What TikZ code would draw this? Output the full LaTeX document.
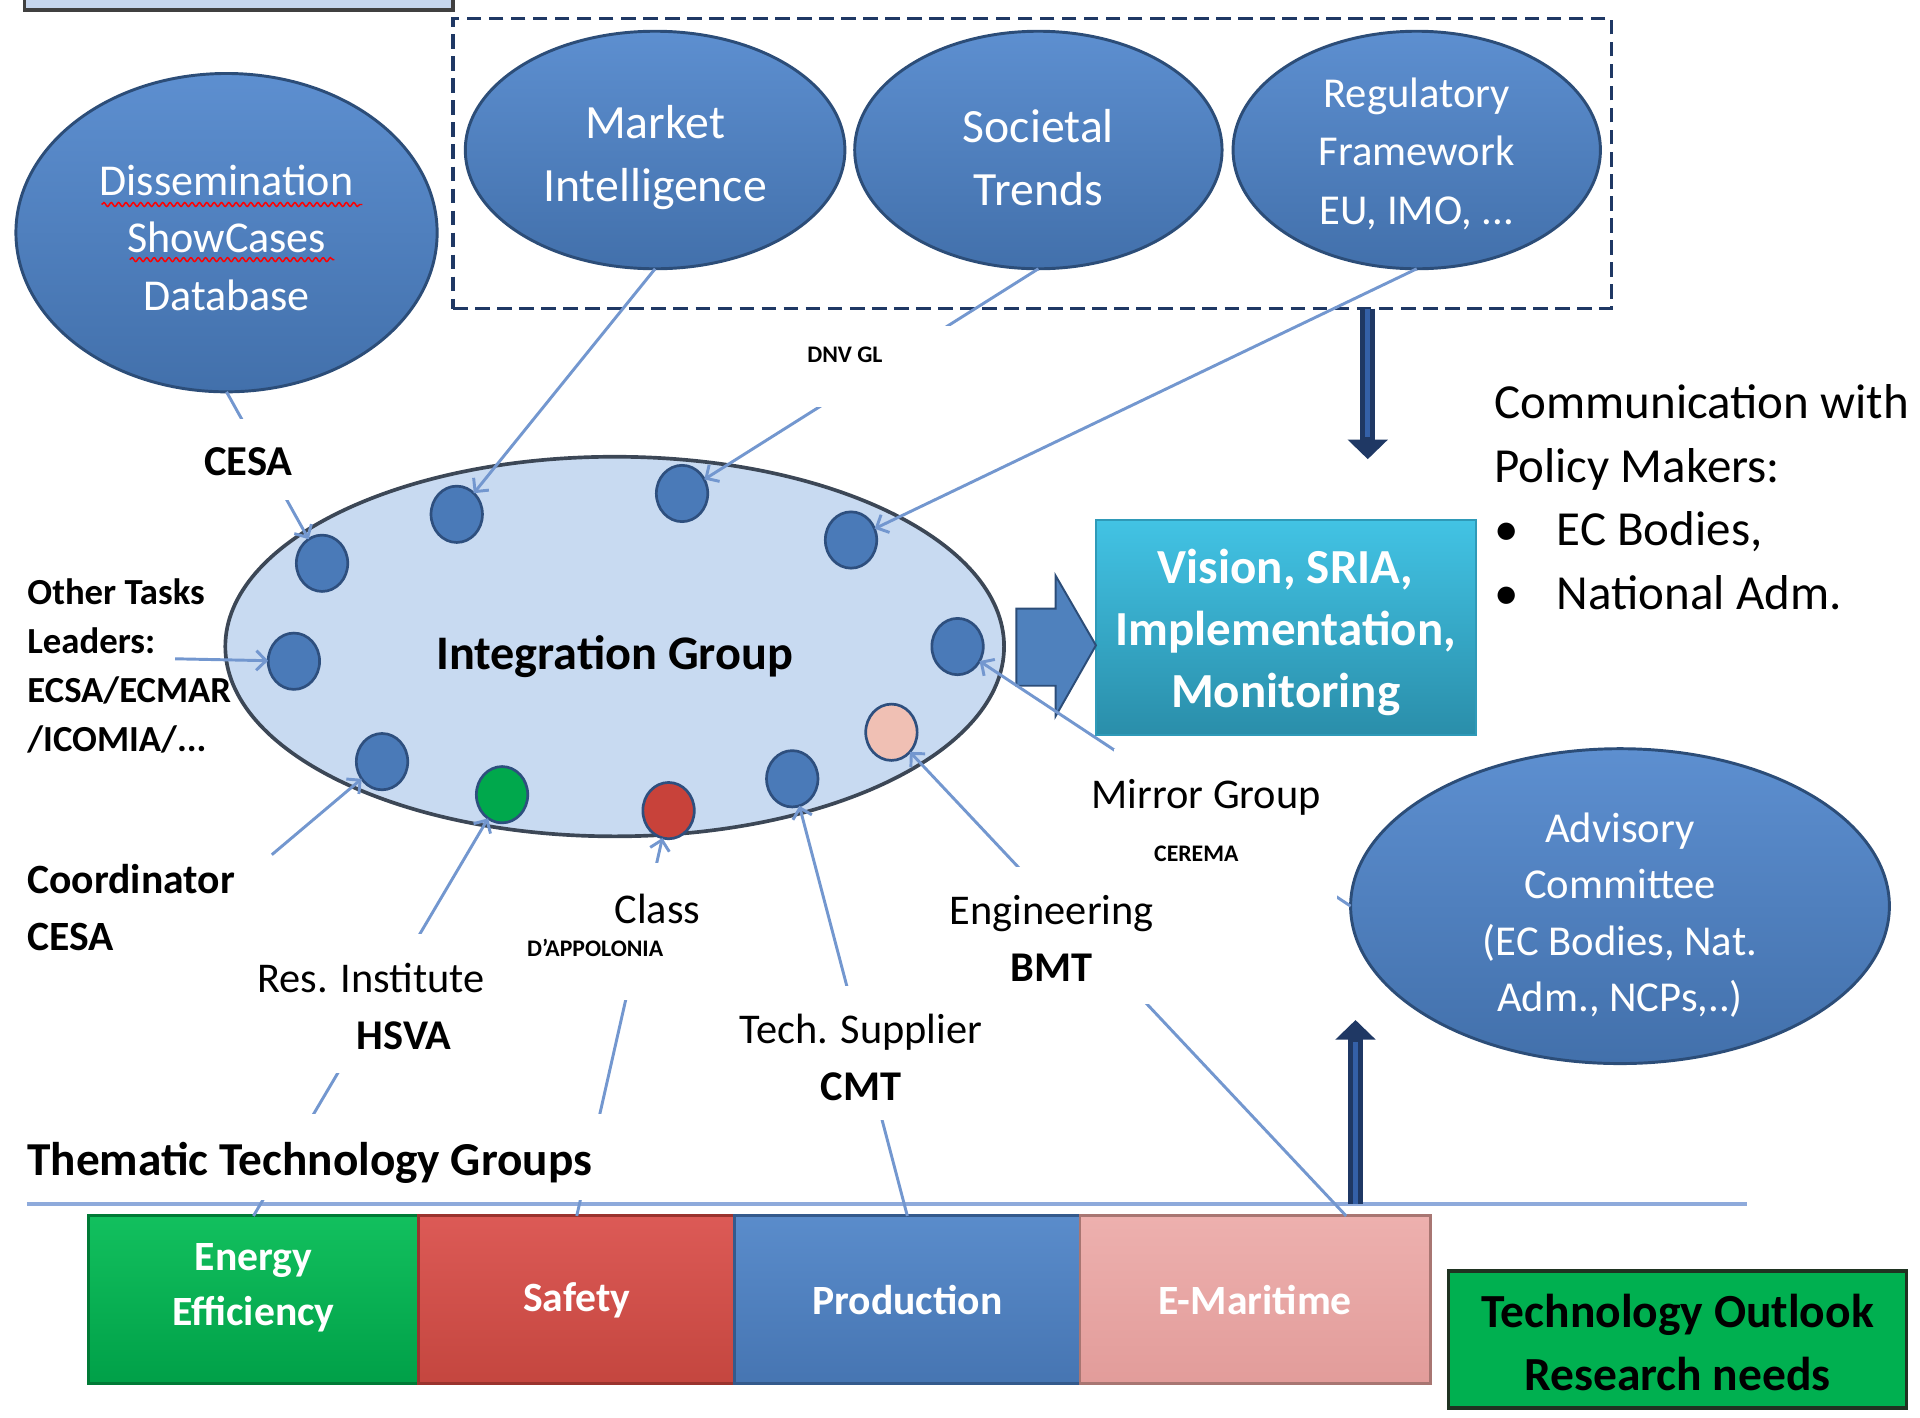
\documentclass[tikz,border=0pt]{standalone}
\usepackage{fontspec}
\setmainfont{Carlito}
\usetikzlibrary{arrows.meta,shapes.geometric,decorations.pathmorphing,calc}
\newcommand\myfs[2]{\fontsize{#1}{#2}\selectfont}
\definecolor{elblueT}{HTML}{5D8FD0}
\definecolor{elblueB}{HTML}{4270AB}
\definecolor{elborder}{HTML}{2C4D78}
\definecolor{elblue}{HTML}{4F81BD}
\definecolor{igfill}{HTML}{C8DAF1}
\definecolor{igborder}{HTML}{3C4756}
\definecolor{connc}{HTML}{7397CF}
\definecolor{navy}{HTML}{1F3864}
\definecolor{navyin}{HTML}{3460A8}
\definecolor{dotb}{HTML}{4A7AB8}
\definecolor{dotborder}{HTML}{2E4F7E}
\definecolor{dgreen}{HTML}{00A84C}
\definecolor{dred}{HTML}{C8423A}
\definecolor{dpink}{HTML}{F0C0B4}
\definecolor{visT}{HTML}{42C3E4}
\definecolor{visB}{HTML}{2A8EAA}
\definecolor{visborder}{HTML}{2F9AB8}
\definecolor{grnT}{HTML}{12C05E}
\definecolor{grnB}{HTML}{00A048}
\definecolor{grnborder}{HTML}{007A36}
\definecolor{redT}{HTML}{DC5A56}
\definecolor{redB}{HTML}{C4463F}
\definecolor{redborder}{HTML}{9A332E}
\definecolor{bluT}{HTML}{5A8CCB}
\definecolor{bluB}{HTML}{4675B2}
\definecolor{bluborder}{HTML}{345A8C}
\definecolor{pnkT}{HTML}{EDB0AE}
\definecolor{pnkB}{HTML}{E29C9A}
\definecolor{pnkborder}{HTML}{A87672}
\definecolor{hline}{HTML}{8EAADB}
\definecolor{topbox}{HTML}{C6D6EE}
\definecolor{togreen}{HTML}{00B050}
\definecolor{toborder}{HTML}{1F3321}
\tikzset{
  bubble/.style={ellipse, draw=elborder, line width=1.2pt, top color=elblueT, bottom color=elblueB,
    text=white, align=center, inner sep=0pt, outer sep=0pt},
  dot/.style={ellipse, minimum width=21pt, minimum height=23pt, inner sep=0pt, outer sep=0pt,
    draw=dotborder, line width=1.1pt, fill=dotb},
  conn/.style={draw=connc, line width=1.2pt},
  tip/.style={-{Straight Barb[length=4pt,width=8pt]}},
  lbl/.style={text=black, align=center, inner sep=0pt},
  ttgbox/.style={rectangle, minimum height=68.5pt, inner sep=0pt, outer sep=0pt, line width=1.2pt,
    text=white, align=center, font=\myfs{17}{22.5}\bfseries},
  navyarrow/.style={draw=navy, line width=6pt, -{Triangle[length=8pt,width=16pt]}},
  mask/.style={fill=white}
}
\begin{document}
\begin{tikzpicture}[x=0.5pt,y=-0.5pt]
\useasboundingbox (0,0) rectangle (1568,1158);

% partial box at top left
\filldraw[fill=topbox, draw=black!75, line width=1.5pt] (20,-20) rectangle (370,8);

% dashed frame
\node[rectangle, minimum width=473pt, minimum height=118.5pt, inner sep=0pt, outer sep=0pt,
  draw=navy, line width=1.5pt, dash pattern=on 6pt off 3pt] (frame) at (843,133.5) {};

% top bubbles
\node[bubble, minimum width=155pt, minimum height=97pt, font=\myfs{19.5}{26}] (mi) at (535,122.5) {\rule{0pt}{19.7pt}Market\\Intelligence};
\node[bubble, minimum width=150pt, minimum height=97pt, font=\myfs{19.5}{26}] (st) at (848,122.5) {\rule{0pt}{19.7pt}Societal\\Trends};
\node[bubble, minimum width=150pt, minimum height=97pt, font=\myfs{17.4}{24}] (rf) at (1157,122.5) {\rule{0pt}{15.2pt}Regulatory\\Framework\\EU, IMO, ...};
\node[bubble, minimum width=172pt, minimum height=130pt, font=\myfs{18}{23.5}] (dis) at (185,190) {\rule{0pt}{16.5pt}Dissemination\\ShowCases\\Database};
\node[bubble, minimum width=220pt, minimum height=128pt, font=\myfs{17.4}{23}] (adv) at (1323,740) {\rule{0pt}{19.5pt}Advisory\\Committee\\(EC Bodies, Nat.\\Adm., NCPs,..)};

% red wavy underlines
\draw[red, line width=0.6pt, decorate, decoration={snake, amplitude=0.8pt, segment length=3pt}] (83,167) -- (296,167);
\draw[red, line width=0.6pt, decorate, decoration={snake, amplitude=0.8pt, segment length=3pt}] (106,212) -- (273,212);

% integration group
\node[ellipse, minimum width=318pt, minimum height=155pt, inner sep=0pt, outer sep=0pt,
  fill=igfill, draw=igborder, line width=1.5pt, font=\myfs{19.7}{24}\bfseries] (ig) at (502,528) {\rule{0pt}{22pt}Integration Group};

% member dots
\node[dot] (c1) at (263,460) {};
\node[dot] (c2) at (373,420) {};
\node[dot] (c3) at (557,403) {};
\node[dot] (c4) at (695,441) {};
\node[dot] (c5) at (240,540) {};
\node[dot] (c6) at (782,528) {};
\node[dot] (c7) at (312,622) {};
\node[dot, fill=dgreen] (c8) at (410,649) {};
\node[dot, fill=dred] (c9) at (546,662) {};
\node[dot] (c10) at (647,636) {};
\node[dot, fill=dpink] (c11) at (728,598) {};

% vision box and block arrow
\node[rectangle, minimum width=155pt, minimum height=87.5pt, inner sep=0pt, outer sep=0pt,
  top color=visT, bottom color=visB, draw=visborder, line width=0.8pt, text=white, align=center,
  font=\myfs{20}{25.5}\bfseries] (vis) at (1050,512.5) {\rule{0pt}{18pt}Vision, SRIA,\\Implementation,\\Monitoring};
\filldraw[fill=elblue, draw=elborder, line width=0.8pt]
  (830,497) -- (862,497) -- (862,470) -- (895,527) -- (862,585) -- (862,560) -- (830,560) -- cycle;

% communication text
\node[anchor=west, align=left, inner sep=0pt, font=\myfs{20}{26}] (comm) at (1220,406)
  {Communication with\\Policy Makers:\\\makebox[25.5pt][l]{•}EC Bodies,\\\makebox[25.5pt][l]{•}National Adm.};

% thematic technology group boxes
\node[ttgbox, minimum width=135pt, top color=grnT, bottom color=grnB, draw=grnborder] (ee) at (207,1061.5) {Energy\\Efficiency\rule[-12.4pt]{0pt}{12.4pt}};
\node[ttgbox, minimum width=129pt, top color=redT, bottom color=redB, draw=redborder] (sf) at (471,1061.5) {Safety};
\node[ttgbox, minimum width=141pt, top color=bluT, bottom color=bluB, draw=bluborder] (pr) at (741,1061.5) {Production};
\node[ttgbox, minimum width=143pt, top color=pnkT, bottom color=pnkB, draw=pnkborder] (em) at (1025,1061.5) {E-Maritime};
\node[rectangle, minimum width=187pt, minimum height=56pt, inner sep=0pt, outer sep=0pt,
  fill=togreen, draw=toborder, line width=1.5pt, align=center, font=\myfs{19.4}{26}\bfseries] (to) at (1370,1094) {\rule{0pt}{16pt}Technology Outlook\\Research needs};

% horizontal line
\coordinate (hlA) at (22,983);
\coordinate (hlB) at (1427,983);
\draw[hline, line width=1.5pt] (hlA) -- (hlB);

% navy arrows
\coordinate (dnB) at (1117,375);
\draw[navyarrow] (frame.south -| dnB) -- (dnB);
\draw[navyin, line width=2pt, shorten >=9pt] (frame.south -| dnB) -- (dnB);
\coordinate (upA) at (1107,983);
\coordinate (upB) at (1107,833);
\draw[navyarrow] (upA) -- (upB);
\draw[navyin, line width=2pt, shorten >=9pt] (upA) -- (upB);

% connectors
\coordinate (ot) at (143,538);
\coordinate (co) at (222,698);
\coordinate (emtop) at ($(em.north west)!0.76!(em.north east)$);
\draw[conn,tip] (mi.south) -- (c2);
\draw[conn,tip] (st.south) -- (c3);
\draw[conn,tip] (rf.south) -- (c4);
\draw[conn,tip] (dis.south) -- (c1);
\draw[conn,tip] (ot) -- (c5);
\draw[conn,tip] (co) -- (c7);
\draw[conn,tip] (ee.north) -- (c8);
\draw[conn,tip] (sf.north) -- (c9);
\draw[conn,tip] (pr.north) -- (c10);
\draw[conn,tip] (emtop) -- (c11);
\draw[conn,tip] (adv.west) -- (c6);

% label backgrounds
\fill[mask] (160,342) rectangle (245,408);
\fill[mask] (662,266) rectangle (778,332);
\fill[mask] (205,763) rectangle (400,876);
\fill[mask] (425,705) rectangle (580,817);
\fill[mask] (600,805) rectangle (805,915);
\fill[mask] (770,708) rectangle (945,820);
\fill[mask] (910,612) rectangle (1092,737);
\fill[mask] (15,910) rectangle (500,980);

% labels
\node[lbl, font=\myfs{17.4}{22}\bfseries] (cesa1) at (203,377) {CESA};
\node[lbl, font=\myfs{9.7}{12}\bfseries] (dnv) at (690,290) {DNV GL};
\node[lbl, anchor=west, align=left, font=\myfs{15}{20}\bfseries] (other) at (22,544) {Other Tasks\\Leaders:\\ECSA/ECMAR\\/ICOMIA/...};
\node[lbl, anchor=west, align=left, font=\myfs{17}{23.5}\bfseries] (coord) at (22,741) {Coordinator\\CESA};
\node[lbl, font=\myfs{17.3}{23.5}] (res) at (303,822) {Res. Institute\\\hspace*{27pt}\textbf{HSVA}};
\node[lbl, font=\myfs{17.3}{22}] (cls) at (537,742) {Class};
\node[lbl, font=\myfs{9.7}{12}\bfseries] (dapp) at (486,774) {D’APPOLONIA};
\node[lbl, font=\myfs{17.3}{23.5}] (tech) at (703,863.5) {Tech. Supplier\\\textbf{CMT}};
\node[lbl, font=\myfs{17.3}{23.5}] (eng) at (859,766.5) {Engineering\\\textbf{BMT}};
\node[lbl, font=\myfs{17.3}{22}] (mirror) at (985,651) {Mirror Group};
\node[lbl, font=\myfs{9.7}{12}\bfseries] (cerema) at (977,697) {CEREMA};
\node[lbl, anchor=west, font=\myfs{19.3}{24}\bfseries] (ttg) at (22,950) {Thematic Technology Groups};
\end{tikzpicture}
\end{document}
